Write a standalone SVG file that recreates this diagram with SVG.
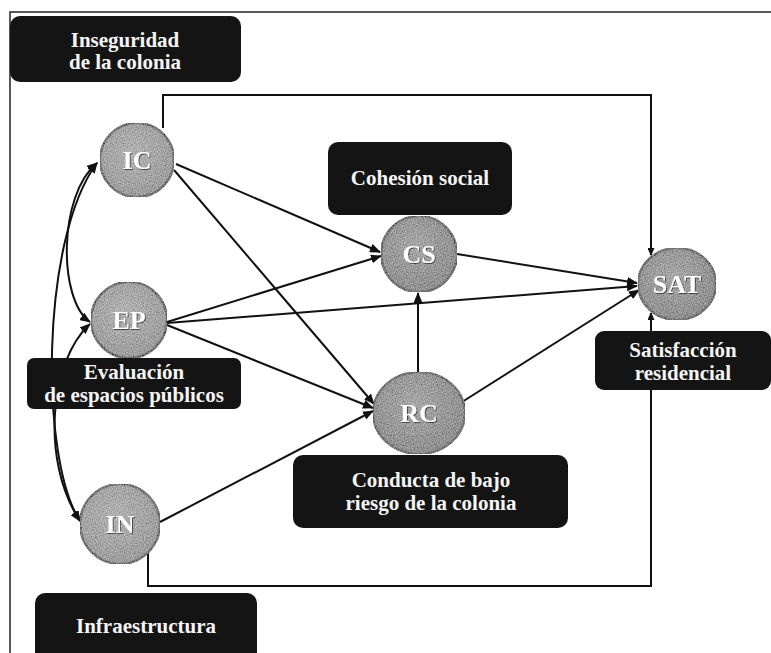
<svg xmlns="http://www.w3.org/2000/svg" width="771" height="653" viewBox="0 0 771 653">
<defs>
<style>
.box{fill:#141414;}
.lbl{font-family:"Liberation Serif","Times New Roman",serif;font-weight:bold;font-size:21px;fill:#f4f4f4;text-anchor:middle;}
.nlbl{font-family:"Liberation Serif","Times New Roman",serif;font-weight:bold;font-size:26px;fill:#ffffff;text-anchor:middle;}
.node{stroke:#1a1a1a;stroke-width:2.2;}
.edge{fill:none;stroke:#111;stroke-width:2;}
.frame{fill:none;stroke:#222;stroke-width:1.5;}
</style>
<radialGradient id="gL" cx="45%" cy="40%" r="60%">
<stop offset="0" stop-color="#adadad"/><stop offset="1" stop-color="#8a8a8a"/>
</radialGradient>
<radialGradient id="gD" cx="45%" cy="40%" r="60%">
<stop offset="0" stop-color="#9c9c9c"/><stop offset="1" stop-color="#707070"/>
</radialGradient>
<filter id="grain" x="0" y="0" width="100%" height="100%">
<feTurbulence type="fractalNoise" baseFrequency="0.9" numOctaves="2" seed="3" result="n"/>
<feColorMatrix in="n" type="matrix" values="1.4 0 0 0 -0.2  1.4 0 0 0 -0.2  1.4 0 0 0 -0.2  0 0 0 0 0.35" result="a"/>
<feComposite in="a" in2="SourceGraphic" operator="in" result="m"/>
<feMerge><feMergeNode in="SourceGraphic"/><feMergeNode in="m"/></feMerge>
</filter>
<filter id="shadow" x="-20%" y="-20%" width="140%" height="140%">
<feDropShadow dx="0.8" dy="0.8" stdDeviation="0.6" flood-color="#222" flood-opacity="0.9"/>
</filter>
<marker id="ah" markerUnits="userSpaceOnUse" markerWidth="11" markerHeight="9" refX="10" refY="4.5" orient="auto-start-reverse">
<path d="M0,0 L11,4.5 L0,9 z" fill="#111"/>
</marker>
<marker id="ahs" markerUnits="userSpaceOnUse" markerWidth="8" markerHeight="7" refX="7" refY="3.5" orient="auto">
<path d="M0,0 L8,3.5 L0,7 z" fill="#111"/>
</marker>
</defs>

<g id="frame">
<path class="frame" d="M10,653 V12 H771"/>
</g>

<g id="connectors">
<path class="edge" d="M163,128 V95 H651 V255" marker-end="url(#ahs)"/>
<path class="edge" d="M148,553 V586 H651 V313" marker-end="url(#ahs)"/>
<path class="edge" d="M97,163 C58,195 58,300 90,322" marker-start="url(#ah)" marker-end="url(#ah)"/>
<path class="edge" d="M97,163 C40,240 40,460 80,521" marker-start="url(#ah)" marker-end="url(#ah)"/>
<path class="edge" d="M90,324 C50,360 40,460 80,521" marker-start="url(#ah)" marker-end="url(#ah)"/>
<path class="edge" d="M176,164 L380,252" marker-end="url(#ah)"/>
<path class="edge" d="M174,170 L374,404" marker-end="url(#ah)"/>
<path class="edge" d="M167,322 L381,256" marker-end="url(#ah)"/>
<path class="edge" d="M167,323 L637,286" marker-end="url(#ah)"/>
<path class="edge" d="M167,325 L373,408" marker-end="url(#ah)"/>
<path class="edge" d="M160,522 L373,411" marker-end="url(#ah)"/>
<path class="edge" d="M457,254 L637,283" marker-end="url(#ah)"/>
<path class="edge" d="M462,402 L639,290" marker-end="url(#ah)"/>
<path class="edge" d="M418,372 L418,293" marker-end="url(#ah)"/>
</g>

<g id="IC">
<circle class="node" cx="137" cy="160" r="37" fill="url(#gL)" filter="url(#grain)"/>
<text class="nlbl" x="137" y="169" filter="url(#shadow)">IC</text>
</g>
<g id="EP">
<circle class="node" cx="129" cy="320" r="38" fill="url(#gL)" filter="url(#grain)"/>
<text class="nlbl" x="129" y="329" filter="url(#shadow)">EP</text>
</g>
<g id="IN">
<circle class="node" cx="120" cy="524" r="40" fill="url(#gL)" filter="url(#grain)"/>
<text class="nlbl" x="120" y="533" filter="url(#shadow)">IN</text>
</g>
<g id="CS">
<circle class="node" cx="419" cy="254" r="38" fill="url(#gD)" filter="url(#grain)"/>
<text class="nlbl" x="419" y="263" filter="url(#shadow)">CS</text>
</g>
<g id="RC">
<ellipse class="node" cx="419" cy="413" rx="46" ry="41" fill="url(#gD)" filter="url(#grain)"/>
<text class="nlbl" x="419" y="422" filter="url(#shadow)">RC</text>
</g>
<g id="SAT">
<ellipse class="node" cx="677" cy="284" rx="39" ry="36" fill="url(#gD)" filter="url(#grain)"/>
<text class="nlbl" x="677" y="293" filter="url(#shadow)">SAT</text>
</g>

<g id="lbl-inseguridad">
<rect class="box" x="10" y="16" width="231" height="66" rx="10"/>
<text class="lbl" x="125" y="47">Inseguridad</text>
<text class="lbl" x="125" y="69">de la colonia</text>
</g>
<g id="lbl-cohesion">
<rect class="box" x="328" y="142" width="184" height="73" rx="10"/>
<text class="lbl" x="420" y="185">Cohesión social</text>
</g>
<g id="lbl-evaluacion">
<rect class="box" x="27" y="358" width="214" height="51" rx="7"/>
<text class="lbl" x="134" y="379">Evaluación</text>
<text class="lbl" x="134" y="402">de espacios públicos</text>
</g>
<g id="lbl-satisfaccion">
<rect class="box" x="595" y="331" width="176" height="59" rx="9"/>
<text class="lbl" x="683" y="357">Satisfacción</text>
<text class="lbl" x="683" y="380">residencial</text>
</g>
<g id="lbl-conducta">
<rect class="box" x="293" y="455" width="275" height="73" rx="10"/>
<text class="lbl" x="431" y="487">Conducta de bajo</text>
<text class="lbl" x="431" y="510">riesgo de la colonia</text>
</g>
<g id="lbl-infra">
<rect class="box" x="35" y="593" width="222" height="70" rx="10"/>
<text class="lbl" x="146" y="633">Infraestructura</text>
</g>
</svg>
